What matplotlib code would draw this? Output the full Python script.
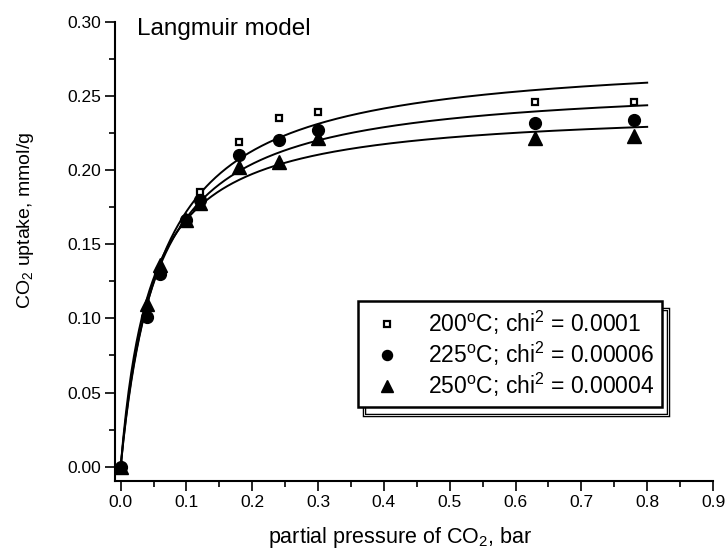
import numpy as np
import matplotlib
matplotlib.use("Agg")
import matplotlib.pyplot as plt
from matplotlib.patches import Rectangle
from matplotlib.ticker import MultipleLocator

plt.rcParams['font.family'] = ['Liberation Sans', 'DejaVu Sans']
plt.rcParams['mathtext.fontset'] = 'custom'
plt.rcParams['mathtext.rm'] = 'Liberation Sans'

# measured points (partial pressure in bar, uptake in mmol/g)
pressure = [0.0, 0.04, 0.06, 0.10, 0.12, 0.18, 0.24, 0.30, 0.63, 0.78]
uptake_200 = [0.0, 0.102, 0.132, 0.166, 0.185, 0.219, 0.235, 0.239, 0.246, 0.246]
uptake_225 = [0.0, 0.101, 0.130, 0.166, 0.180, 0.210, 0.220, 0.227, 0.232, 0.234]
uptake_250 = [0.0, 0.110, 0.136, 0.166, 0.1775, 0.202, 0.2055, 0.2215, 0.2215, 0.223]

# Langmuir fit parameters q = qm*K*P/(1+K*P)
qm = [0.279, 0.2605, 0.2421]
K = [16.1, 18.1, 22.06]
labels = [r'200$^\mathregular{o}$C; chi$^\mathregular{2}$ = 0.0001',
          r'225$^\mathregular{o}$C; chi$^\mathregular{2}$ = 0.00006',
          r'250$^\mathregular{o}$C; chi$^\mathregular{2}$ = 0.00004']

fig = plt.figure(figsize=(7.28, 5.55), dpi=100)
ax = fig.add_axes([115/728, 1-480.7/555, (713-115)/728, (480.7-21.7)/555])

P = np.linspace(0, 0.8, 400)
for a, b in zip(qm, K):
    ax.plot(P, a*b*P/(1+b*P), color='black', lw=1.4, zorder=2)

h1, = ax.plot(pressure, uptake_200, ls='none', marker='s', ms=4.5, mfc='white',
              mec='black', mew=1.6, label=labels[0], zorder=3)
h2, = ax.plot(pressure, uptake_225, ls='none', marker='o', ms=8.5, color='black',
              label=labels[1], zorder=4)
h3, = ax.plot(pressure, uptake_250, ls='none', marker='^', ms=9.5, color='black',
              label=labels[2], zorder=5)

ax.set_xlim(-0.0086, 0.9)
ax.set_ylim(-0.0094, 0.30)
ax.xaxis.set_major_locator(MultipleLocator(0.1))
ax.xaxis.set_minor_locator(MultipleLocator(0.05))
ax.yaxis.set_major_locator(MultipleLocator(0.05))
ax.yaxis.set_minor_locator(MultipleLocator(0.025))
ax.xaxis.set_major_formatter(plt.FormatStrFormatter('%.1f'))
ax.yaxis.set_major_formatter(plt.FormatStrFormatter('%.2f'))
ax.spines['top'].set_visible(False)
ax.spines['right'].set_visible(False)
for s in ['left', 'bottom']:
    ax.spines[s].set_linewidth(1.5)
ax.tick_params(which='major', direction='out', length=7, width=1.2, labelsize=12.5, pad=3)
ax.tick_params(which='minor', direction='out', length=4, width=1.2)

fig.text(400/728, 1-537/555, r'partial pressure of CO$_\mathregular{2}$, bar',
         ha='center', va='center', fontsize=15.5)
fig.text(26/728, 1-220/555, r'CO$_\mathregular{2}$ uptake, mmol/g', rotation=90,
         ha='center', va='center', fontsize=14)
fig.text(137/728, 1-35/555, 'Langmuir model', ha='left', va='baseline', fontsize=17.5)

leg = ax.legend(handles=[h1, h2, h3], loc='upper left',
                bbox_to_anchor=(358/728, 1-300.7/555), bbox_transform=fig.transFigure,
                fontsize=16.5, frameon=True, fancybox=False, borderpad=0.35, framealpha=1,
                handletextpad=0.9, labelspacing=0.12, handlelength=1.8, markerscale=0.85,
                borderaxespad=0)
leg.get_frame().set_edgecolor('black')
leg.get_frame().set_linewidth(1.8)
leg.set_zorder(10)

fig.canvas.draw()
bb = leg.get_window_extent().transformed(fig.transFigure.inverted())
dx, dy = 6/728, 8/555
sh = Rectangle((bb.x0+dx, bb.y0-dy), bb.width, bb.height, transform=fig.transFigure,
               facecolor='white', edgecolor='black', lw=2.5, zorder=8, clip_on=False)
sh2 = Rectangle((bb.x0+dx, bb.y0-dy), bb.width, bb.height, transform=fig.transFigure,
                facecolor='none', edgecolor='white', lw=0.6, zorder=8.5, clip_on=False)
ax.add_patch(sh)
ax.add_patch(sh2)

fig.savefig('out.png', dpi=100)
